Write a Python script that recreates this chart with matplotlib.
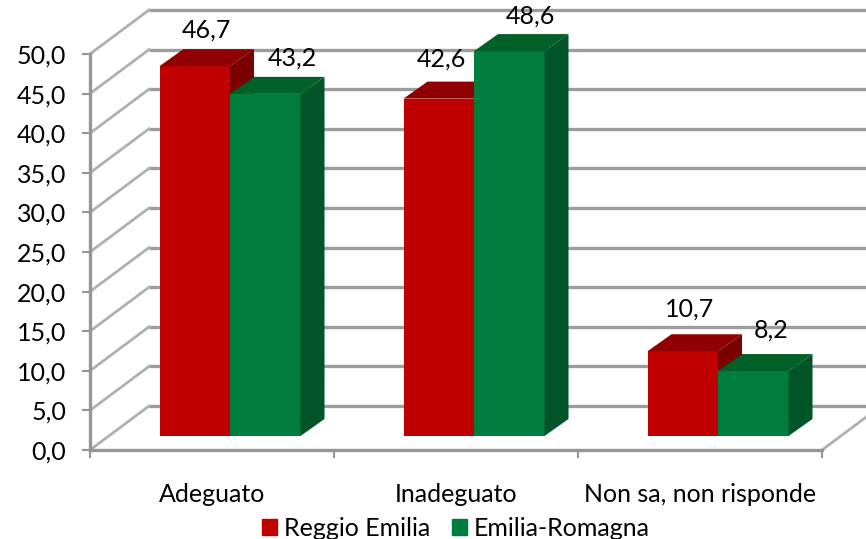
import matplotlib
matplotlib.use('Agg')
import matplotlib.pyplot as plt
from matplotlib.patches import Patch

plt.rcParams['font.family'] = ['Lato', 'DejaVu Sans']

categories = ['Adeguato', 'Inadeguato', 'Non sa, non risponde']
reggio = [46.7, 42.6, 10.7]
emilia = [43.2, 48.6, 8.2]
labels_reggio = ['46,7', '42,6', '10,7']
labels_emilia = ['43,2', '48,6', '8,2']
y_ticks = [0, 5, 10, 15, 20, 25, 30, 35, 40, 45, 50]
y_labels = ['0,0', '5,0', '10,0', '15,0', '20,0', '25,0', '30,0', '35,0', '40,0', '45,0', '50,0']

W, H = 866, 539
fig = plt.figure(figsize=(W / 100, H / 100), dpi=100)
ax = fig.add_axes([90 / W, (H - 450) / H, 732 / W, 396 / H])
ax.set_xlim(0, 3)
ax.set_ylim(0, 50)
ax.patch.set_alpha(0)

# pixel -> data sizes
px_x = 3 / 732
px_y = 50 / 396
wall_dx, wall_dy = 59 * px_x, 44 * px_y
floor_dx, floor_dy = 18 * px_x, 14 * px_y
depth_dx, depth_dy = 24 * px_x, 17 * px_y
bar_w = 70.5 * px_x

GRID = '#9c9c9c'
DIAG = '#b0b0b0'

# back wall and left wall lines
for v in y_ticks:
    ax.plot([wall_dx, 3.2], [v + wall_dy, v + wall_dy], color=GRID, lw=2.4, zorder=1,
            clip_on=False, solid_capstyle='butt')
    ax.plot([0, wall_dx], [v, v + wall_dy], color=DIAG, lw=2.0, zorder=1, clip_on=False)
# right edge of the floor
ax.plot([3, 3 + wall_dx], [0, wall_dy], color=DIAG, lw=2.0, zorder=1, clip_on=False)


def draw_bar(x, value, front, top, side):
    base = floor_dy
    h = value
    ax.bar(x, h, bar_w, bottom=base, align='edge', color=front, zorder=3, lw=0, clip_on=False)
    ax.fill([x, x + bar_w, x + bar_w + depth_dx, x + depth_dx],
            [base + h, base + h, base + h + depth_dy, base + h + depth_dy],
            color=top, zorder=3, lw=0, clip_on=False)
    ax.fill([x + bar_w, x + bar_w + depth_dx, x + bar_w + depth_dx, x + bar_w],
            [base, base + depth_dy, base + h + depth_dy, base + h],
            color=side, zorder=3, lw=0, clip_on=False)


# pixel offsets of the value labels from the middle of each front top edge
offsets_reggio = [(12, 36), (3, 40), (7, 42)]
offsets_emilia = [(27, 36), (21, 35), (18, 41)]

for i in range(3):
    left = i + 0.5 + floor_dx - bar_w
    draw_bar(left, reggio[i], '#c00000', '#900000', '#7a0000')
    draw_bar(left + bar_w, emilia[i], '#007d3c', '#006028', '#005528')
    for xx, val, txt, off in [(left + bar_w / 2, reggio[i], labels_reggio[i], offsets_reggio[i]),
                              (left + 1.5 * bar_w, emilia[i], labels_emilia[i], offsets_emilia[i])]:
        ax.annotate(txt, (xx, val + floor_dy), xytext=(off[0] * 0.72, off[1] * 0.72),
                    textcoords='offset points', ha='center', va='center',
                    fontsize=18, color='black', zorder=5, annotation_clip=False)

# axes lines
for s in ['top', 'right']:
    ax.spines[s].set_visible(False)
for s in ['left', 'bottom']:
    ax.spines[s].set_color('#969696')
    ax.spines[s].set_linewidth(2.4)
    ax.spines[s].set_zorder(4)

ax.set_yticks(y_ticks)
ax.set_yticklabels(y_labels, fontsize=18)
ax.tick_params(axis='y', length=6, width=1.5, color='#969696', pad=11)
ax.set_xticks([0, 1, 2, 3])
ax.set_xticklabels([])
ax.tick_params(axis='x', length=6, width=1.5, color='#969696')
ax.set_xticks([0.5, 1.5, 2.5], minor=True)
ax.set_xticklabels(categories, minor=True, fontsize=18)
ax.tick_params(axis='x', which='minor', length=0, pad=24)

handles = [Patch(color='#c00000', label='Reggio Emilia'), Patch(color='#007d3c', label='Emilia-Romagna')]
fig.legend(handles=handles, loc='lower center', bbox_to_anchor=(456 / W, -0.044), ncol=2, frameon=False,
           fontsize=18, handlelength=0.6, handleheight=0.6, handletextpad=0.25, columnspacing=0.9)

fig.savefig('out.png', dpi=100)
